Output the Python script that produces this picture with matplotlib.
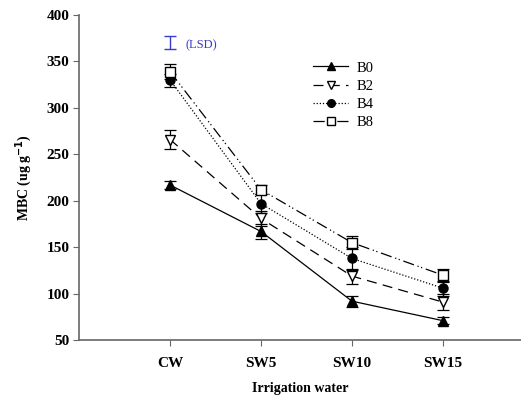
import numpy as np
from matplotlib import pyplot as plt
from matplotlib.lines import Line2D

####################################
### Data
####################################

water = ["CW", "SW5", "SW10", "SW15"]

b0 = [217, 167, 92, 71]
b2 = [266, 181, 119, 91]
b4 = [330, 197, 138, 106]
b8 = [339, 212, 155, 120]

b0_err = [4, 8, 6, 4]
b2_err = [10, 8, 8, 9]
b4_err = [7, 10, 12, 8]
b8_err = [8, 5, 7, 7]

lsd_value = 370
lsd_err = 7

####################################
### Plot
####################################

plt.rcParams["font.family"] = "Liberation Serif"
plt.rcParams["font.weight"] = "bold"

fig = plt.figure(figsize=(5.21, 3.96), dpi=100)
ax = fig.add_axes([0.152, 0.141, 0.848, 0.821])

x = np.arange(1, len(water) + 1)

series = [
    ("B0", b0, b0_err, "-", "^", "k"),
    ("B2", b2, b2_err, (0, (8, 5)), "v", "white"),
    ("B4", b4, b4_err, (0, (1, 1.5)), "o", "k"),
    ("B8", b8, b8_err, (0, (9, 3, 1, 2, 1, 3)), "s", "white"),
]

handles = []
for name, vals, err, ls, mk, fc in series:
    ax.errorbar(x, vals, yerr=err, color="k", linestyle=ls, linewidth=0.9,
                marker=mk, markersize=6.5, markerfacecolor=fc, markeredgecolor="k",
                capsize=4, elinewidth=0.9, capthick=0.9)
    handles.append(Line2D([], [], color="k", linestyle=ls, linewidth=0.9,
                          marker=mk, markersize=5.5, markerfacecolor=fc,
                          markeredgecolor="k", label=name))

### LSD bar
ax.errorbar([1], [lsd_value], yerr=[lsd_err], color="#3a3acc", linestyle="none",
            capsize=4, elinewidth=1, capthick=1)
ax.text(1.17, lsd_value - 3, "(LSD)", color="#3a3acc", fontsize=9,
        fontweight="normal", va="center", ha="left")

ax.set_xlim(0, 4.86)
ax.set_ylim(50, 400)
ax.set_yticks(np.arange(50, 401, 50))
ax.set_xticks(x)
ax.set_xticklabels(water)

for s in ["top", "right"]:
    ax.spines[s].set_visible(False)
for s in ["left", "bottom"]:
    ax.spines[s].set_color("#666666")
    ax.spines[s].set_linewidth(1.2)

ax.tick_params(axis="both", direction="out", length=4, color="#666666",
               labelsize=11, pad=3)
ax.tick_params(axis="x", pad=8)

ax.set_ylabel(r"MBC (ug g$^{\mathrm{-1}}$)", fontsize=10, fontweight="bold", labelpad=9)
ax.set_xlabel("Irrigation water", fontsize=10, fontweight="bold", labelpad=9)

leg = ax.legend(handles=handles, loc="upper left", bbox_to_anchor=(0.5, 0.898),
                frameon=False, handlelength=2.4, labelspacing=0.35, handletextpad=0.6,
                prop={"family": "Liberation Serif", "weight": "normal", "size": 10.5})

fig.savefig("out.png", dpi=100)
